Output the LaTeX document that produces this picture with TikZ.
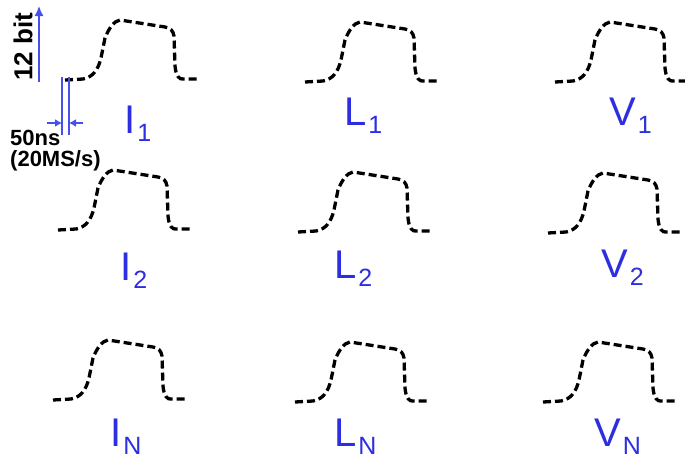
\documentclass[tikz,border=0pt]{standalone}
\usepackage{fontspec}
\setmainfont{Liberation Sans}
\usetikzlibrary{arrows.meta}

\definecolor{chanblue}{RGB}{45,45,225}
\definecolor{markblue}{RGB}{70,80,235}
\newcommand{\chan}[2]{#1\kern2pt\raisebox{-8pt}{\fontsize{25}{25}\selectfont #2}}

\tikzset{
  trace/.style={line width=3.3pt, dash pattern=on 8pt off 4pt},
  pics/pulse/.style={code={
    \draw[trace] (0,0) -- (18,-1) .. controls (28,-3) and (33,-10) .. (36,-22)
      -- (40,-42) .. controls (44,-52) and (49,-59) .. (55,-60)
      -- (100,-53) .. controls (106,-52) and (108,-49) .. (109,-44)
      -- (110,-14) .. controls (111,-4) and (114,0) .. (119,-1) -- (135,-1);
  }},
  chanlabel/.style={anchor=base west, inner sep=0pt, text=chanblue,
    font=\fontsize{40}{40}\selectfont},
  marktext/.style={inner sep=0pt, font=\bfseries\fontsize{22}{22}\selectfont},
  markline/.style={draw=markblue, line width=1.5pt},
}

\begin{document}
\begin{tikzpicture}[x=1pt, y=-1pt]
	\useasboundingbox (0,0) rectangle (685,459);
	% first sample
	\pic at (65,80) {pulse};
	\pic at (305,82) {pulse};
	\pic at (555,82) {pulse};
	\node[chanlabel] (i1) at (124,133) {\chan{I}{1}};
	\node[chanlabel] (l1) at (344,125) {\chan{L}{1}};
	\node[chanlabel] (v1) at (609,125) {\chan{V}{1}};
	% second sample
	\pic at (58,230) {pulse};
	\pic at (298,232) {pulse};
	\pic at (548,233) {pulse};
	\node[chanlabel] (i2) at (120,280) {\chan{I}{2}};
	\node[chanlabel] (l2) at (334,278) {\chan{L}{2}};
	\node[chanlabel] (v2) at (601,277) {\chan{V}{2}};
	% last sample
	\pic at (53,400) {pulse};
	\pic at (295,402) {pulse};
	\pic at (543,402) {pulse};
	\node[chanlabel] (iN) at (110,446) {\chan{I}{N}};
	\node[chanlabel] (lN) at (334,446) {\chan{L}{N}};
	\node[chanlabel] (vN) at (594,446) {\chan{V}{N}};
	% resolution and sample period
	\coordinate (bitlo) at (39,82);
	\coordinate (bithi) at (39,6);
	\draw[markline, -{Latex[length=10pt,width=9pt]}] (bitlo) -- (bithi);
	\node[marktext, rotate=90, font=\bfseries\fontsize{26}{26}\selectfont] (bits) at (23,47) {12 bit};
	\coordinate (ticka) at (62,77);
	\coordinate (tickb) at (69,77);
	\draw[markline] (ticka) -- ++(0,58);
	\draw[markline] (tickb) -- ++(0,58);
	\coordinate (inl) at (47,123);
	\coordinate (inr) at (83,123);
	\draw[markline, -{Latex[length=7pt,width=8pt]}] (inl) -- (inl -| ticka);
	\draw[markline, -{Latex[length=7pt,width=8pt]}] (inr) -- (inr -| tickb);
	\node[marktext, anchor=base west] (period) at (10,145) {50ns};
	\node[marktext, anchor=base west] (rate) at (10,166) {(20MS/s)};
\end{tikzpicture}
\end{document}
